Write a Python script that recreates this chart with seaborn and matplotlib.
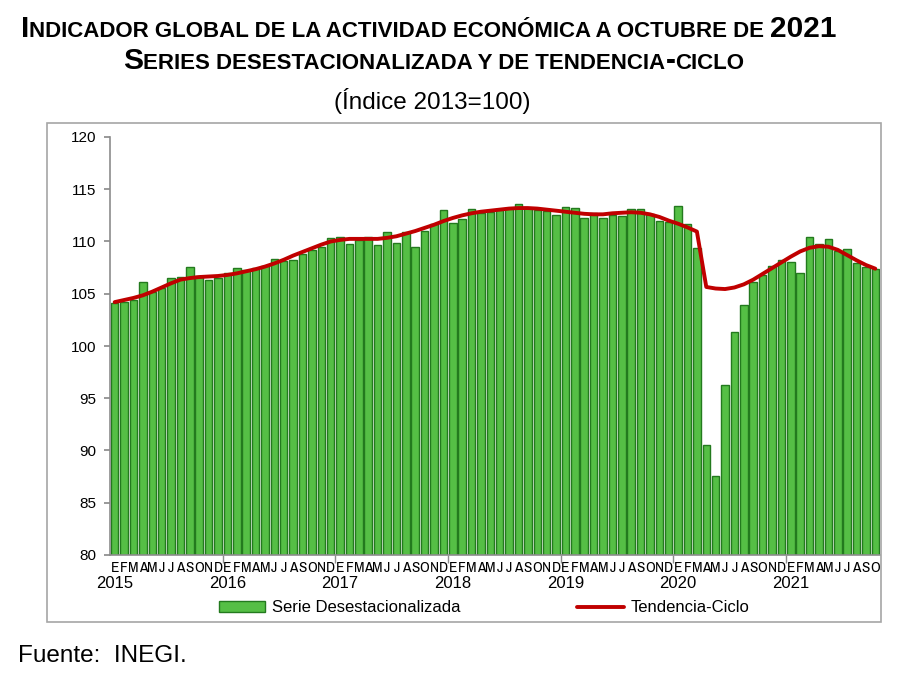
import matplotlib
matplotlib.use("Agg")
import matplotlib.pyplot as plt
import seaborn as sns
import numpy as np
import pandas as pd
from matplotlib.patches import Rectangle, Patch
from matplotlib.lines import Line2D
from matplotlib import font_manager

# ---------------- data ----------------
years = ["2015", "2016", "2017", "2018", "2019", "2020", "2021"]
month_letters = ["E", "F", "M", "A", "M", "J", "J", "A", "S", "O", "N", "D"]

serie_2015 = [104.1, 104.25, 104.4, 106.1, 105.15, 105.55, 106.5, 106.65, 107.6, 106.7, 106.3, 106.5]
serie_2016 = [106.95, 107.45, 107.25, 107.45, 107.65, 108.3, 108.1, 108.2, 108.8, 109.15, 109.5, 110.35]
serie_2017 = [110.4, 109.8, 110.15, 110.45, 109.65, 110.95, 109.9, 110.9, 109.5, 111.0, 111.7, 113.05]
serie_2018 = [111.75, 112.15, 113.1, 112.75, 112.85, 113.05, 113.2, 113.6, 113.2, 113.05, 112.95, 112.55]
serie_2019 = [113.3, 113.2, 112.25, 112.7, 112.25, 112.55, 112.45, 113.1, 113.15, 112.6, 112.0, 111.85]
serie_2020 = [113.35, 111.7, 109.35, 90.5, 87.6, 96.3, 101.3, 103.9, 106.1, 106.75, 107.65, 108.25]
serie_2021 = [108.0, 106.95, 110.45, 109.75, 110.2, 109.1, 109.25, 107.95, 107.6, 107.35]

tend_2015 = [104.2, 104.4, 104.6, 104.85, 105.2, 105.6, 106.0, 106.35, 106.5, 106.6, 106.65, 106.7]
tend_2016 = [106.8, 106.95, 107.15, 107.35, 107.6, 107.9, 108.25, 108.65, 109.0, 109.35, 109.7, 110.0]
tend_2017 = [110.15, 110.25, 110.25, 110.25, 110.25, 110.35, 110.5, 110.75, 111.0, 111.3, 111.6, 111.95]
tend_2018 = [112.25, 112.5, 112.7, 112.85, 112.95, 113.05, 113.15, 113.2, 113.2, 113.15, 113.05, 112.95]
tend_2019 = [112.85, 112.75, 112.65, 112.6, 112.6, 112.7, 112.75, 112.8, 112.75, 112.6, 112.35, 112.0]
tend_2020 = [111.7, 111.35, 110.95, 105.65, 105.5, 105.45, 105.6, 105.9, 106.35, 106.9, 107.45, 108.0]
tend_2021 = [108.55, 109.05, 109.4, 109.55, 109.5, 109.2, 108.7, 108.2, 107.75, 107.4]

yticks = [80, 85, 90, 95, 100, 105, 110, 115, 120]

serie = serie_2015 + serie_2016 + serie_2017 + serie_2018 + serie_2019 + serie_2020 + serie_2021
tend = tend_2015 + tend_2016 + tend_2017 + tend_2018 + tend_2019 + tend_2020 + tend_2021
n = len(serie)
idx = list(range(n))
month_lab = [month_letters[i % 12] for i in idx]

df = pd.DataFrame({"idx": idx, "serie": serie, "tend": tend})

# ---------------- fonts ----------------
names = {f.name for f in font_manager.fontManager.ttflist}
regular = "Liberation Sans" if "Liberation Sans" in names else "DejaVu Sans"
if "Archivo Narrow" in names:
    month_family, month_size = ["Archivo Narrow", regular, "DejaVu Sans"], 11
else:
    month_family, month_size = [regular, "DejaVu Sans"], 9.5

sns.set_theme(style="white")
plt.rcParams["font.family"] = [regular, "DejaVu Sans"]
plt.rcParams["text.color"] = "black"
plt.rcParams["xtick.color"] = "black"
plt.rcParams["ytick.color"] = "black"
plt.rcParams["axes.labelcolor"] = "black"

W, H = 900, 684
fig = plt.figure(figsize=(W / 100, H / 100), dpi=100)
fig.patch.set_facecolor("white")

# outer frame
fig.patches.append(Rectangle((47 / W, 1 - 622 / H), 834 / W, 499 / H, transform=fig.transFigure,
                             fill=False, edgecolor="#A6A6A6", lw=1.2))

ax = fig.add_axes([110 / W, 1 - 555 / H, 770 / W, 418 / H])

sns.barplot(data=df, x="idx", y="serie", color="#55BF45", width=0.8,
            edgecolor="#237A1E", linewidth=1.0, saturation=1, ax=ax, zorder=2)
for p in ax.patches:
    p.set_facecolor("#55BF45")
sns.lineplot(data=df, x="idx", y="tend", color="#C00000", linewidth=2.8, ax=ax, zorder=3)

ax.set_xlim(-0.5, n - 0.5)
ax.set_ylim(80, 120)
ax.set_yticks(yticks)
ax.set_yticklabels([str(v) for v in yticks], fontsize=11)
ax.set_xlabel("")
ax.set_ylabel("")

ax.spines["top"].set_visible(False)
ax.spines["right"].set_visible(False)
ax.spines["left"].set_color("#8C8C8C")
ax.spines["bottom"].set_color("#8C8C8C")
ax.spines["left"].set_linewidth(1.2)
ax.spines["bottom"].set_linewidth(1.2)

ax.tick_params(axis="y", direction="out", length=4, color="#8C8C8C", labelcolor="black", pad=6, left=True)
ax.set_xticks(idx)
ax.set_xticklabels(month_lab, fontsize=month_size, family=month_family)
ax.tick_params(axis="x", length=0, pad=4, labelcolor="black")
ax.set_xticks([i * 12 - 0.5 for i in range(1, 7)], minor=True)
ax.tick_params(axis="x", which="minor", length=6, color="#8C8C8C", direction="out", bottom=True)

trans = matplotlib.transforms.blended_transform_factory(ax.transData, fig.transFigure)
for k, yr in enumerate(years):
    ax.text(k * 12, 1 - 584 / H, yr, transform=trans, ha="center", va="center", fontsize=12,
            color="black")

# legend
handles = [Patch(facecolor="#55BF45", edgecolor="#237A1E", lw=1.0),
           Line2D([0], [0], color="#C00000", lw=2.8)]
leg = fig.legend(handles, ["Serie Desestacionalizada", "Tendencia-Ciclo"], loc="center",
                 bbox_to_anchor=(484 / W, 1 - 608 / H), ncol=2, frameon=False, fontsize=12,
                 handlelength=2.8, handleheight=0.6, columnspacing=7.0, handletextpad=0.4)
for t in leg.get_texts():
    t.set_color("black")

# titles with small caps
renderer = fig.canvas.get_renderer()


def smallcaps_line(segments, ycen, xcenter):
    texts = []
    for txt, size in segments:
        t = fig.text(0, ycen, txt, fontsize=size, fontweight="bold", va="baseline", ha="left",
                     color="black")
        texts.append(t)
    widths = [t.get_window_extent(renderer).width for t in texts]
    total = sum(widths)
    x = xcenter * W - total / 2
    for t, w in zip(texts, widths):
        t.set_x(x / W)
        x += w


BIG, SMALL = 21.5, 16
smallcaps_line([("I", BIG), ("NDICADOR GLOBAL DE LA ACTIVIDAD ECONÓMICA A OCTUBRE DE ", SMALL), ("2021", BIG)],
               1 - 37 / H, 429 / W)
smallcaps_line([("S", BIG), ("ERIES DESESTACIONALIZADA Y DE TENDENCIA", SMALL), ("-", BIG), ("CICLO", SMALL)],
               1 - 69 / H, 434 / W)

fig.text(432 / W, 1 - 101 / H, "(Índice 2013=100)", fontsize=17.5, ha="center", va="center",
         color="black")

fig.text(18 / W, 1 - 656 / H, "Fuente:  INEGI.", fontsize=17.5, ha="left", va="center",
         color="black")

fig.savefig("out.png", dpi=100, facecolor="white")
